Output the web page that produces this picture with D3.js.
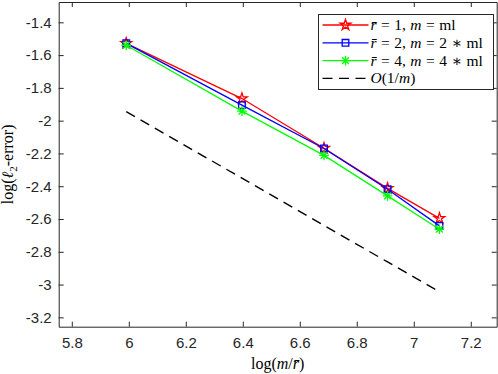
<!DOCTYPE html>
<html>
<head>
<meta charset="utf-8">
<script src="https://cdn.jsdelivr.net/npm/d3@7"></script>
<style>
  body { margin: 0; background: #fff; }
  svg { display: block; }
  .axis text { font-family: "Liberation Sans", Arial, sans-serif; font-size: 15px; fill: #262626; }
  .axis path, .axis line { stroke: #262626; stroke-width: 1; }
  .tex { font-family: "Liberation Serif", "DejaVu Serif", serif; fill: #000; }
</style>
</head>
<body>
<div id="chart"></div>
<script>
// data: x = log(m / rbar)
var xValues = [5.991, 6.397, 6.685, 6.908, 7.090];
var seriesR1 = [-1.528, -1.865, -2.168, -2.413, -2.596];
var seriesR2 = [-1.528, -1.905, -2.170, -2.418, -2.642];
var seriesR4 = [-1.540, -1.942, -2.212, -2.459, -2.662];
var refLine = [-1.945, -2.351, -2.639, -2.862, -3.044];

var xTicks = [5.8, 6, 6.2, 6.4, 6.6, 6.8, 7, 7.2];
var yTicks = [-1.4, -1.6, -1.8, -2, -2.2, -2.4, -2.6, -2.8, -3, -3.2];

var WIDTH = 498, HEIGHT = 374;
var MARGINS = {top: 2, right: 1.3, bottom: 47.3, left: 58.7};
var graphWidth = WIDTH - MARGINS.left - MARGINS.right;
var graphHeight = HEIGHT - MARGINS.top - MARGINS.bottom;

var svg = d3.select('#chart').append('svg')
    .attr('width', WIDTH)
    .attr('height', HEIGHT);

var g = svg.append('g')
    .attr('transform', 'translate(' + MARGINS.left + ',' + MARGINS.top + ')');

var x = d3.scaleLinear().domain([5.754, 7.291]).range([0, graphWidth]);
var y = d3.scaleLinear().domain([-3.257, -1.276]).range([graphHeight, 0]);

// marker shapes
function asterisk(r) {
    var p = d3.path();
    for (var i = 0; i < 4; i++) {
        var a = i * Math.PI / 4;
        p.moveTo(-r * Math.cos(a), -r * Math.sin(a));
        p.lineTo(r * Math.cos(a), r * Math.sin(a));
    }
    return p.toString();
}
var markers = {
    star: d3.symbol(d3.symbolStar).size(36)(),
    square: d3.symbol(d3.symbolSquare).size(44)(),
    asterisk: asterisk(4.8)
};

var series = [
    {values: seriesR1, color: '#ff0000', marker: 'star'},
    {values: seriesR2, color: '#0000ff', marker: 'square'},
    {values: seriesR4, color: '#00ff00', marker: 'asterisk'}
];

// axes (box with inward ticks on all sides)
g.append('g').attr('class', 'axis')
    .attr('transform', 'translate(0,' + graphHeight + ')')
    .call(d3.axisBottom(x).tickValues(xTicks).tickFormat(d3.format('')).tickSizeInner(-5).tickSizeOuter(0).tickPadding(11));
g.append('g').attr('class', 'axis')
    .call(d3.axisTop(x).tickValues(xTicks).tickFormat('').tickSizeInner(-5).tickSizeOuter(0));
g.append('g').attr('class', 'axis')
    .call(d3.axisLeft(y).tickValues(yTicks).tickFormat(d3.format('')).tickSizeInner(-5).tickSizeOuter(0).tickPadding(7));
g.append('g').attr('class', 'axis')
    .attr('transform', 'translate(' + graphWidth + ',0)')
    .call(d3.axisRight(y).tickValues(yTicks).tickFormat('').tickSizeInner(-5).tickSizeOuter(0));
g.selectAll('.axis text').text(function() { return this.textContent.replace('\u2212', '-'); });

var line = d3.line()
    .x(function(d, i) { return x(xValues[i]); })
    .y(function(d) { return y(d); });

// reference slope
g.append('path')
    .attr('d', line(refLine))
    .attr('fill', 'none')
    .attr('stroke', '#000')
    .attr('stroke-width', 1.4)
    .attr('stroke-dasharray', '10,6.5');

series.forEach(function(s) {
    g.append('path')
        .attr('d', line(s.values))
        .attr('fill', 'none')
        .attr('stroke', s.color)
        .attr('stroke-width', 1.3);
    g.selectAll(null).data(s.values).enter().append('path')
        .attr('transform', function(d, i) { return 'translate(' + x(xValues[i]) + ',' + y(d) + ')'; })
        .attr('d', markers[s.marker])
        .attr('fill', 'none')
        .attr('stroke', s.color)
        .attr('stroke-width', 1.3);
});

// axis titles
var xTitle = svg.append('text').attr('class', 'tex')
    .attr('x', MARGINS.left + graphWidth / 2).attr('y', 369)
    .attr('text-anchor', 'middle').style('font-size', '16px');
xTitle.append('tspan').text('log(');
xTitle.append('tspan').attr('font-style', 'italic').text('m');
xTitle.append('tspan').text('/');
xTitle.append('tspan').attr('font-style', 'italic').text('r\u0304');
xTitle.append('tspan').text(')');

var yTitle = svg.append('text').attr('class', 'tex')
    .attr('transform', 'translate(13,' + (MARGINS.top + graphHeight / 2) + ') rotate(-90)')
    .attr('text-anchor', 'middle').style('font-size', '16px');
yTitle.append('tspan').text('log(');
yTitle.append('tspan').attr('font-style', 'italic').text('\u2113');
yTitle.append('tspan').attr('dy', 4).style('font-size', '11px').text('2');
yTitle.append('tspan').attr('dy', -4).text('-error)');

// legend
var legendItems = [
    {s: series[0], label: [['r\u0304', 1], [' = 1, ', 0], ['m', 1], [' = ml', 0]]},
    {s: series[1], label: [['r\u0304', 1], [' = 2, ', 0], ['m', 1], [' = 2 \u2217 ml', 0]]},
    {s: series[2], label: [['r\u0304', 1], [' = 4, ', 0], ['m', 1], [' = 4 \u2217 ml', 0]]},
    {s: null, label: [['O', 1], ['(1/', 0], ['m', 1], [')', 0]]}
];
var legend = svg.append('g').attr('transform', 'translate(318.5,14.5)');
legend.append('rect')
    .attr('width', 175).attr('height', 75)
    .attr('fill', '#fff').attr('stroke', '#262626').attr('stroke-width', 1);
legendItems.forEach(function(item, i) {
    var row = legend.append('g').attr('transform', 'translate(0,' + (10.5 + i * 17.8) + ')');
    row.append('line')
        .attr('x1', 4).attr('x2', 50)
        .attr('stroke', item.s ? item.s.color : '#000')
        .attr('stroke-width', item.s ? 1.3 : 1.4)
        .attr('stroke-dasharray', item.s ? null : '10,6.5');
    if (item.s) {
        row.append('path')
            .attr('transform', 'translate(27,0)')
            .attr('d', markers[item.s.marker])
            .attr('fill', 'none').attr('stroke', item.s.color).attr('stroke-width', 1.3);
    }
    var t = row.append('text').attr('class', 'tex')
        .attr('x', 52).attr('y', 5).style('font-size', '15.5px')
        .attr('word-spacing', '0.6px');
    item.label.forEach(function(part) {
        t.append('tspan').attr('font-style', part[1] ? 'italic' : null).text(part[0]);
    });
});
</script>
</body>
</html>
